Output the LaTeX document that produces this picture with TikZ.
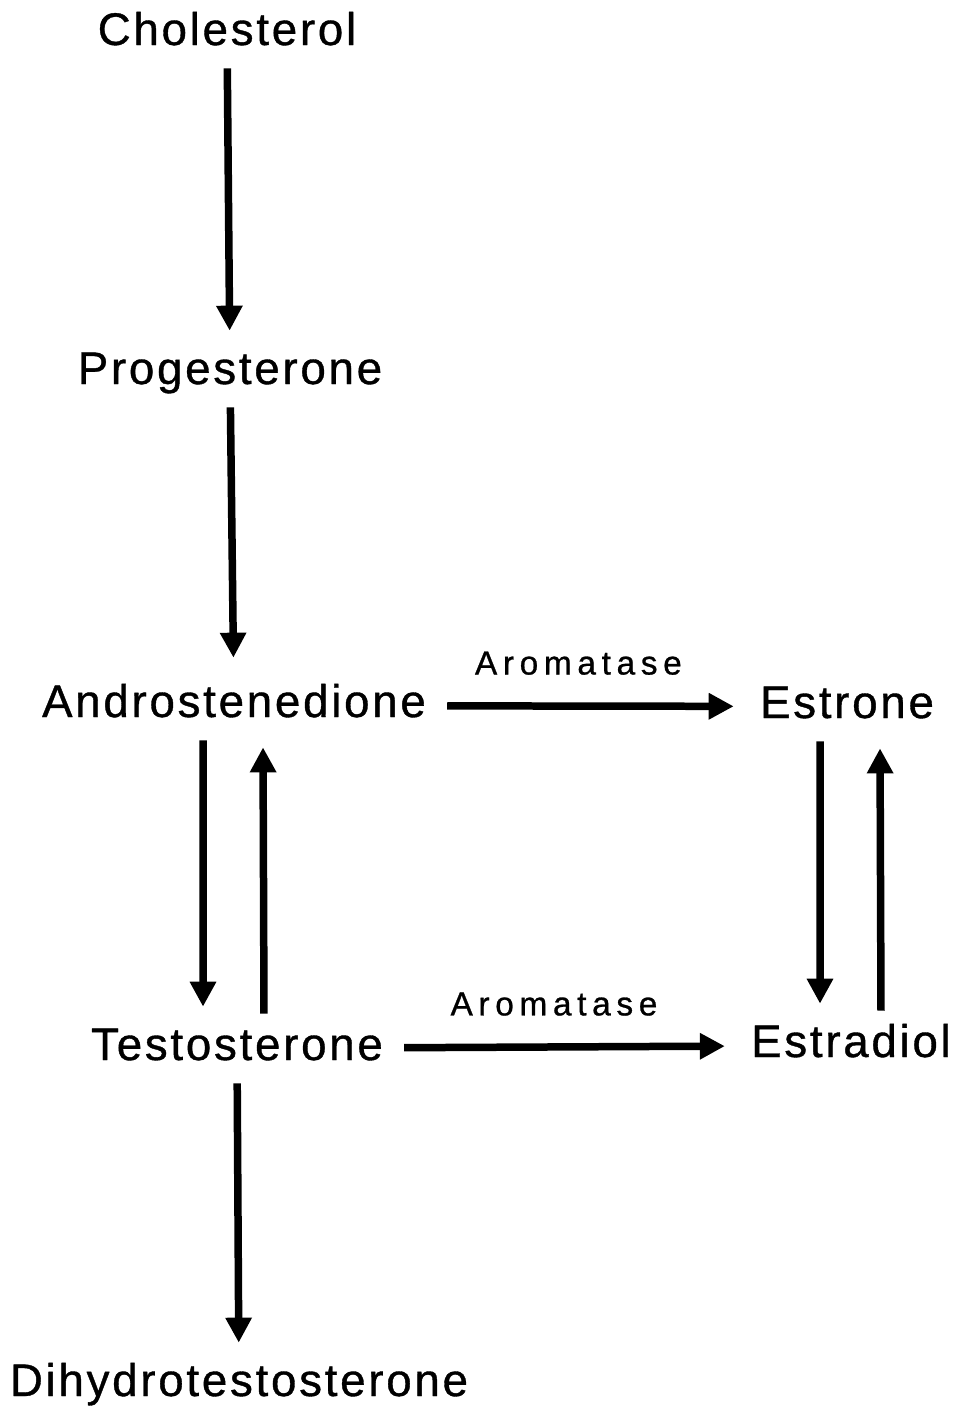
\documentclass[tikz,border=0pt]{standalone}
\usepackage{fontspec}
\usetikzlibrary{arrows.meta}
\newfontfamily\compoundfont[LetterSpace=6,FakeBold=0.8]{Liberation Sans}
\newfontfamily\enzymefont[LetterSpace=17,FakeBold=0.8]{Liberation Sans}
\tikzset{compound/.style={font=\compoundfont\fontsize{26}{30}\selectfont,anchor=base,
   inner xsep=0.42cm,inner ysep=0.23cm,text height=0.69cm,text depth=0.23cm},
 enzyme/.style={font=\enzymefont\fontsize{19}{23}\selectfont,inner sep=0pt},
 reaction/.style={-{Triangle[length=0.5cm,width=0.5cm]},line width=0.15cm,shorten >=0.14cm},
 every picture/.style={line join=round}}
\begin{document}
\begin{tikzpicture}[x=0.02cm,y=-0.02cm]
\useasboundingbox (0,0) rectangle (955,1407);
\node[compound] (chol) at (227,45) {Cholesterol};
\node[compound] (prog) at (230,384) {Progesterone};
\node[compound] (andro) at (234,717) {Androstenedione};
\node[compound] (estrone) at (847,718) {Estrone};
\node[compound] (testo) at (237,1060) {Testosterone};
\node[compound] (estradiol) at (851,1057) {Estradiol};
\node[compound] (dht) at (239,1396) {Dihydrotestosterone};
\draw[reaction] (chol) -- (prog);
\draw[reaction,shorten >=0.26cm] (prog) -- (andro);
\draw[reaction,shorten >=0.1cm] (andro) -- node[enzyme,pos=0.45,above=0.55cm] (arom1) {Aromatase} (estrone);
\draw[reaction,shorten >=0.1cm] (testo) -- node[enzyme,pos=0.46,above=0.55cm] (arom2) {Aromatase} (estradiol);
\draw[reaction] ([xshift=-0.62cm]andro.south) -- ([xshift=-0.68cm]testo.north);
\draw[reaction] ([xshift=0.54cm]testo.north) -- ([xshift=0.58cm]andro.south);
\draw[reaction] ([xshift=-0.54cm]estrone.south) -- ([xshift=-0.62cm]estradiol.north);
\draw[reaction] ([xshift=0.6cm]estradiol.north) -- ([xshift=0.66cm]estrone.south);
\draw[reaction] (testo) -- (dht);
\end{tikzpicture}
\end{document}
